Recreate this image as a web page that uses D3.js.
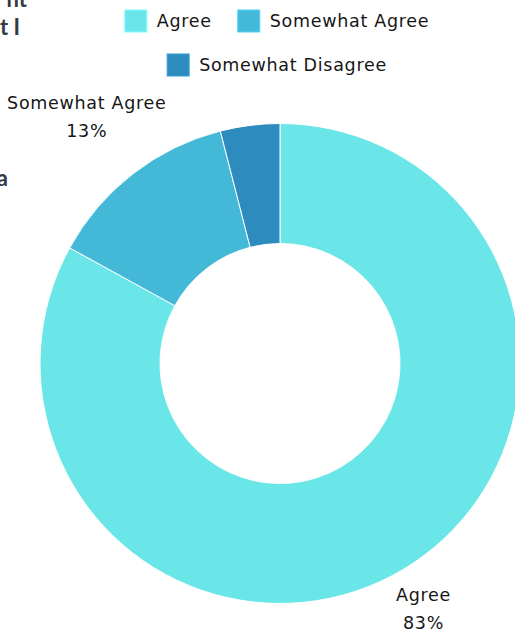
<!DOCTYPE html>
<html>
<head>
<meta charset="utf-8">
<script src="https://cdn.jsdelivr.net/npm/d3@7"></script>
<style>
  html, body { margin: 0; padding: 0; background: #ffffff; }
  svg { display: block; }
</style>
</head>
<body>
<svg id="chart" width="515" height="633"></svg>
<script>
// Survey responses
const categories = ["Agree", "Somewhat Agree", "Somewhat Disagree"];
const values = [83, 13, 4];
const colors = ["#6be6e8", "#43b8d7", "#2e8bbd"];
// Which slices carry an outside label
const labelled = ["Agree", "Somewhat Agree"];
// Trailing pieces of the heading block on the left
const headingBits = ["nt", "t I", "a"];

const width = 515, height = 633;
const cx = 280, cy = 363.5;
const outerR = 240, innerR = 120;
const font = "'DejaVu Sans', 'Noto Sans', sans-serif";
const textColor = "#161616";
const fontSize = 17.5, letterSpacing = 0.7, lineGap = 28;

const svg = d3.select("#chart");

const data = categories.map((c, i) => ({ name: c, value: values[i], color: colors[i] }));

const pie = d3.pie().sort(null).value(d => d.value);
const arc = d3.arc().innerRadius(innerR).outerRadius(outerR);
const arcs = pie(data);

const g = svg.append("g").attr("transform", `translate(${cx},${cy})`);

g.selectAll("path.slice")
  .data(arcs)
  .join("path")
  .attr("class", "slice")
  .attr("d", arc)
  .attr("fill", d => d.data.color)
  .attr("stroke", "#ffffff")
  .attr("stroke-width", 1);

// Outside labels: box pushed out along the slice's mid angle
const total = d3.sum(values);
arcs.filter(a => labelled.includes(a.data.name)).forEach(a => {
  const mid = (a.startAngle + a.endAngle) / 2;
  const dx = Math.sin(mid), dy = -Math.cos(mid);
  const pct = Math.round(a.data.value / total * 100) + "%";
  const t = g.append("text")
    .attr("font-family", font)
    .attr("font-size", fontSize)
    .attr("letter-spacing", letterSpacing)
    .attr("fill", textColor)
    .attr("text-anchor", "middle");
  t.append("tspan").attr("x", 0).attr("y", 0).text(a.data.name);
  t.append("tspan").attr("x", 0).attr("y", lineGap).text(pct);
  const bb = t.node().getBBox();
  const w = bb.width, h = 44;
  const r = outerR + 9 + Math.abs(dx) * w / 2 + Math.abs(dy) * h / 2;
  const x = dx * r, y = dy * r;
  t.attr("transform", `translate(${x},${y - lineGap / 2 + 9})`);
});

// Legend, centred rows
const legendRows = [[0, 1], [2]];
const box = 22;
legendRows.forEach((row, ri) => {
  const rowG = svg.append("g");
  let x = 0;
  row.forEach(i => {
    const item = rowG.append("g").attr("transform", `translate(${x},0)`);
    item.append("rect")
      .attr("width", box).attr("height", box)
      .attr("fill", colors[i])
      .attr("stroke", d3.color(colors[i]).brighter(0.4))
      .attr("stroke-width", 1);
    const tx = item.append("text")
      .attr("x", box + 10).attr("y", 17)
      .attr("font-family", font)
      .attr("font-size", fontSize)
      .attr("letter-spacing", letterSpacing)
      .attr("fill", textColor)
      .text(categories[i]);
    x += box + 10 + tx.node().getComputedTextLength() + 26;
  });
  const rowW = x - 26;
  const legendCenter = 277;
  rowG.attr("transform", `translate(${legendCenter - rowW / 2},${10 + ri * 44})`);
});

// Heading fragments at the left edge
const heading = svg.append("g")
  .attr("font-family", "'Lato', 'Open Sans', sans-serif")
  .attr("font-weight", "bold")
  .attr("font-size", 22)
  .attr("fill", "#333a44")
  .attr("text-anchor", "end");
heading.append("text").attr("x", 27).attr("y", 7).text(headingBits[0]);
heading.append("text").attr("x", 20).attr("y", 35).text(headingBits[1]);
heading.append("text").attr("x", 8).attr("y", 186).text(headingBits[2]);
</script>
</body>
</html>
